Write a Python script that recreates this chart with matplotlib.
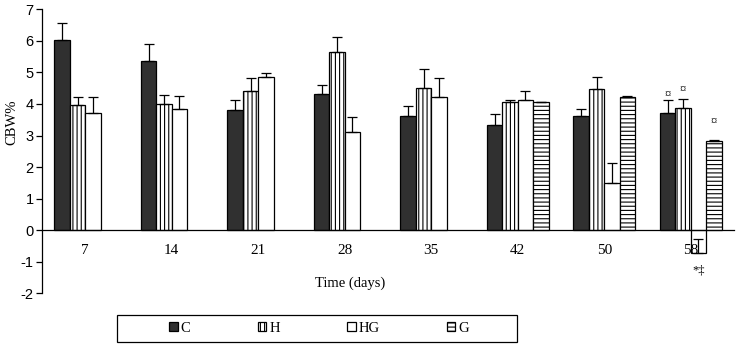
import numpy as np
import matplotlib
matplotlib.use("Agg")
import matplotlib.pyplot as plt
from matplotlib.patches import Rectangle

days = ["7", "14", "21", "28", "35", "42", "50", "58"]
series_names = ["C", "H", "HG", "G"]
C = [6.03, 5.37, 3.80, 4.32, 3.62, 3.33, 3.63, 3.71]
H = [3.96, 3.99, 4.42, 5.66, 4.50, 4.05, 4.47, 3.86]
HG = [3.70, 3.84, 4.85, 3.10, 4.21, 4.11, 1.48, -0.72]
G = [np.nan, np.nan, np.nan, np.nan, np.nan, 4.07, 4.23, 2.84]
C_err = [0.52, 0.52, 0.33, 0.28, 0.32, 0.35, 0.20, 0.40]
H_err = [0.27, 0.30, 0.39, 0.47, 0.60, 0.09, 0.40, 0.29]
HG_err = [0.51, 0.42, 0.12, 0.50, 0.60, 0.31, 0.66, 0.45]
G_err = [np.nan, np.nan, np.nan, np.nan, np.nan, 0.0, 0.02, 0.02]
y_ticks = [-2, -1, 0, 1, 2, 3, 4, 5, 6, 7]

# annotations on day 58: (series index, label, y position)
annot_series = [0, 1, 3, 2]
annot_text = ["¤", "¤", "¤", "*‡"]
annot_y = [4.29, 4.44, 3.43, -1.27]

plt.rcParams['hatch.linewidth'] = 0.8
serif = "Liberation Serif"
sans = "Liberation Sans"

fig = plt.figure(figsize=(7.36, 3.46), dpi=100)
ax = fig.add_axes([42/736, 1-293.3/346, (734-42)/736, (293.3-9.3)/346])
ax.spines["top"].set_visible(False)
ax.spines["right"].set_visible(False)
ax.spines["bottom"].set_position(("data", 0))
ax.spines["bottom"].set_linewidth(0.9)
ax.spines["left"].set_linewidth(0.9)
ax.set_axisbelow(False)

x = np.arange(len(days))
w = 0.179
styles = [
    dict(facecolor="#303030", hatch=None),
    dict(facecolor="white", hatch="||||"),
    dict(facecolor="white", hatch=None),
    dict(facecolor="white", hatch="----"),
]
data = [C, H, HG, G]
errs = [C_err, H_err, HG_err, G_err]
handles = []
for i, (vals, er, st) in enumerate(zip(data, errs, styles)):
    vals = np.array(vals, dtype=float)
    er = np.array(er, dtype=float)
    pos = x + (i - 1.5) * w
    mask = ~np.isnan(vals)
    b = ax.bar(pos[mask], vals[mask], width=w, facecolor=st["facecolor"],
               edgecolor="black", linewidth=0.9, hatch=st["hatch"], zorder=2,
               label=series_names[i])
    handles.append(b)
    ax.errorbar(pos[mask], vals[mask],
                yerr=[np.zeros(mask.sum()), er[mask]],
                fmt="none", ecolor="black", elinewidth=0.9, capsize=3.5,
                capthick=0.9, zorder=3)

for si, t, yy in zip(annot_series, annot_text, annot_y):
    xx = x[-1] + (si - 1.5) * w
    ax.text(xx, yy, t, ha="center", va="center", fontsize=9,
            family=[serif, "DejaVu Sans"], zorder=4)

ax.set_xlim(-0.5, len(days) - 0.5)
ax.set_ylim(-2, 7)
ax.set_yticks(y_ticks)
ax.set_yticklabels([str(v) for v in y_ticks], family=sans, fontsize=10.5)
ax.set_xticks(x)
ax.set_xticklabels(days, family=serif, fontsize=11)
ax.tick_params(axis="x", length=0, pad=10)
ax.tick_params(axis="y", direction="out", length=4, width=0.9, pad=2)
ax.set_facecolor("none")

fig.text(350/736, 1-283/346, "Time (days)", ha="center", va="center",
         family=serif, fontsize=10.5)
fig.text(12/736, 1-122/346, "CBW%", ha="center", va="center", rotation=90,
         family=serif, fontsize=10.5)

# legend box
fig.patches.append(Rectangle((117/736, 1-342/346), 400/736, 27/346,
                             transform=fig.transFigure, facecolor="white",
                             edgecolor="black", linewidth=0.9))
leg = fig.legend(handles=handles, labels=series_names, ncol=4, loc="center",
                 bbox_to_anchor=(319/736, 1-328.5/346), frameon=False,
                 prop=dict(family=serif, size=10.5), handlelength=0.6,
                 handleheight=0.6, handletextpad=0.2, columnspacing=4.6,
                 borderpad=0.1)

fig.savefig("out.png", dpi=100)
